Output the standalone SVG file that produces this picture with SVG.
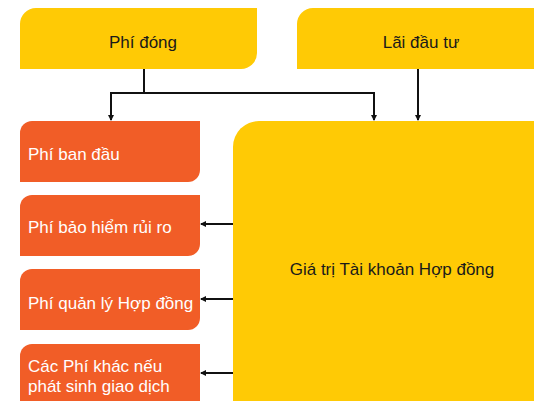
<svg xmlns="http://www.w3.org/2000/svg" width="534" height="401" viewBox="0 0 534 401">
<defs>
<style>
.y{fill:#FFCA05}
.o{fill:#F15D27}
.dt{font-family:"Liberation Sans",Arial,sans-serif;font-size:17px;fill:#1a1a1a;text-anchor:middle}
.wt{font-family:"Liberation Sans",Arial,sans-serif;font-size:17px;fill:#ffffff}
.c{stroke:#111;stroke-width:2;fill:none}
</style>
<marker id="ah" markerWidth="6" markerHeight="6" refX="5" refY="3" orient="auto" markerUnits="userSpaceOnUse">
<path d="M0,0 L6,3 L0,6 Z" fill="#111"/>
</marker>
</defs>
<g id="phi-dong">
<path class="y" d="M20,24 A16,16 0 0 1 36,8 H257 V53 A16,16 0 0 1 241,69 H20 Z"/>
<text class="dt" x="143" y="48">Phí đóng</text>
</g>
<g id="lai-dau-tu">
<path class="y" d="M297,24 A16,16 0 0 1 313,8 H545 V69 H297 Z"/>
<text class="dt" x="421" y="48">Lãi đầu tư</text>
</g>
<g id="gia-tri">
<path class="y" d="M233,147 A26,26 0 0 1 259,121 H560 V430 H233 Z"/>
<text class="dt" x="392" y="275">Giá trị Tài khoản Hợp đồng</text>
</g>
<g id="phi-ban-dau">
<path class="o" d="M20,133 A12,12 0 0 1 32,121 H200 V170 A12,12 0 0 1 188,182 H20 Z"/>
<text class="wt" x="28" y="160">Phí ban đầu</text>
</g>
<g id="phi-bao-hiem">
<path class="o" d="M20,207 A12,12 0 0 1 32,195 H200 V244 A12,12 0 0 1 188,256 H20 Z"/>
<text class="wt" x="28" y="233">Phí bảo hiểm rủi ro</text>
</g>
<g id="phi-quan-ly">
<path class="o" d="M20,281 A12,12 0 0 1 32,269 H200 V318 A12,12 0 0 1 188,330 H20 Z"/>
<text class="wt" x="28" y="309">Phí quản lý Hợp đồng</text>
</g>
<g id="phi-khac">
<path class="o" d="M20,356 A12,12 0 0 1 32,344 H200 V405 H20 Z"/>
<text class="wt" x="28" y="372">Các Phí khác nếu</text>
<text class="wt" x="28" y="392">phát sinh giao dịch</text>
</g>
<g id="connectors">
<path class="c" d="M144,69 V93"/>
<path class="c" d="M111,93 H374"/>
<path class="c" d="M111,92 V120" marker-end="url(#ah)"/>
<path class="c" d="M374,92 V120" marker-end="url(#ah)"/>
<path class="c" d="M418,69 V120" marker-end="url(#ah)"/>
<path class="c" d="M233,224 H201" marker-end="url(#ah)"/>
<path class="c" d="M233,299 H201" marker-end="url(#ah)"/>
<path class="c" d="M233,373 H201" marker-end="url(#ah)"/>
</g>
</svg>
